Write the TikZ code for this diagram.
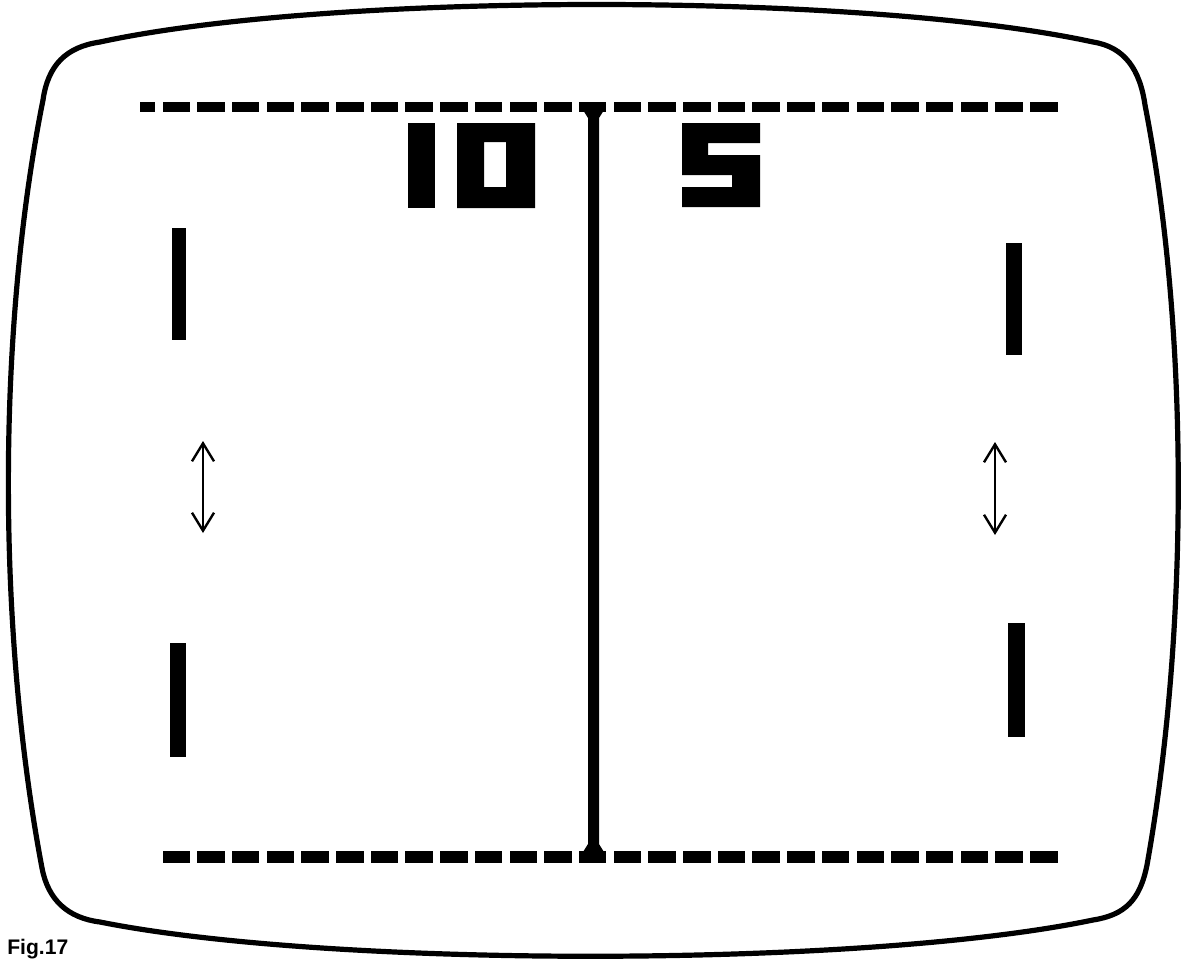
\documentclass[tikz,border=0pt]{standalone}
\usepackage{fontspec}
\setmainfont{Liberation Sans}
\usetikzlibrary{arrows.meta}

\begin{document}
\begin{tikzpicture}[
      x=0.25mm, y=-0.25mm,
      screen/.style={draw, line width=1.3mm, line join=round},
      netdash/.style={fill=black},
      paddle/.style={fill=black},
      digit/.style={fill=black, even odd rule},
      updown/.style={{Straight Barb[length=4.5mm, width=5.5mm]}-{Straight Barb[length=4.5mm, width=5.5mm]}, line width=0.6mm},
      figlabel/.style={font=\fontsize{15}{15}\selectfont\bfseries, inner sep=0pt, anchor=base west}
    ]
    \useasboundingbox (0,0) rectangle (1184,962);

    % tube outline
    \draw[screen] (100,42) .. controls (330,-8) and (863,-8) .. (1093,42)
      .. controls (1125,47) and (1140,70) .. (1145,105)
      .. controls (1189,330) and (1189,630) .. (1147,865)
      .. controls (1140,900) and (1125,915) .. (1093,920)
      .. controls (863,968) and (330,968) .. (100,922)
      .. controls (68,918) and (48,900) .. (42,868)
      .. controls (-3,630) and (-3,330) .. (43,100)
      .. controls (48,65) and (66,47) .. (100,42) -- cycle;

    % top and bottom boundaries
    \fill[netdash] (140,102) rectangle (155,112);
    \foreach \k in {0,...,25} {
      \fill[netdash] ({162.5+34.7*\k},102) rectangle ({190+34.7*\k},112);
      \fill[netdash] ({162.5+34.7*\k},851) rectangle ({190+34.7*\k},863);
    }

    % centre net
    \fill (583,110) -- (604,110) -- (599,118) -- (599,844) -- (604,852)
      -- (583,852) -- (588,844) -- (588,118) -- cycle;

    % scores
    \fill[digit] (408,123) rectangle (435,208);
    \fill[digit] (457,123) rectangle (535,208) (484,142) rectangle (506,187);
    \fill[digit] (682,123) -- (760,123) -- (760,143) -- (708,143) -- (708,155)
      -- (760,155) -- (760,207) -- (682,207) -- (682,187) -- (732,187)
      -- (732,175) -- (682,175) -- cycle;

    % paddles
    \fill[paddle] (172,228) rectangle (186,340);
    \fill[paddle] (170,643) rectangle (186,757);
    \fill[paddle] (1006,243) rectangle (1022,355);
    \fill[paddle] (1008,623) rectangle (1025,737);

    % movement arrows
    \coordinate (lup) at (203,441);
    \coordinate (ldown) at (203,533);
    \coordinate (rup) at (995,442);
    \coordinate (rdown) at (995,535);
    \draw[updown] (lup) -- (ldown);
    \draw[updown] (rup) -- (rdown);

    \node[figlabel] (fig) at (7,954) {Fig.17};
  \end{tikzpicture}
\end{document}
